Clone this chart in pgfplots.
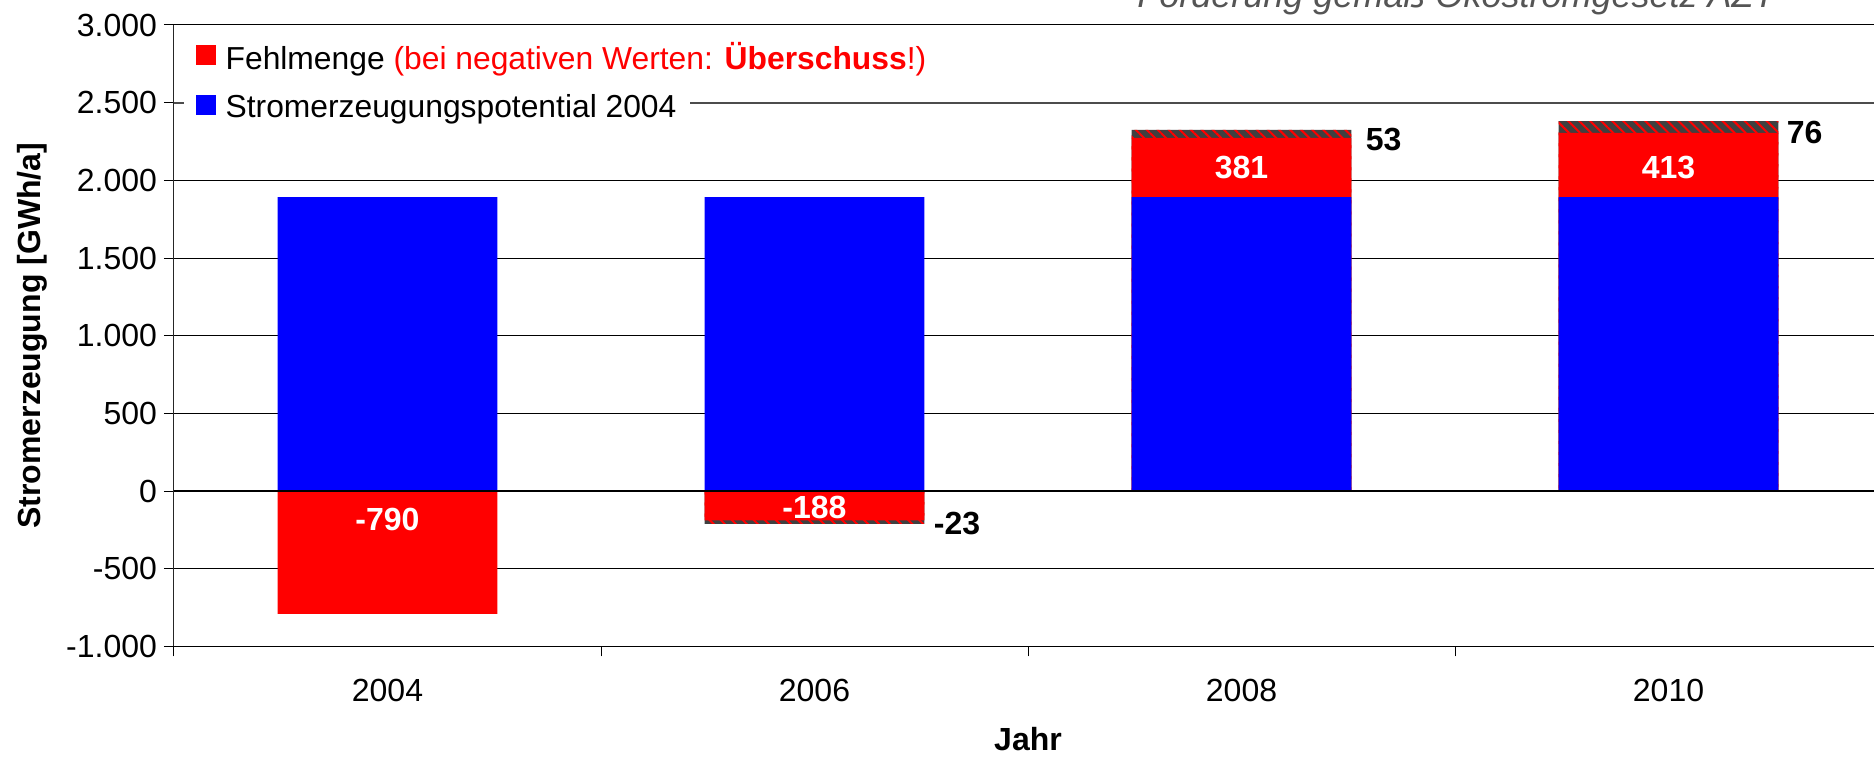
\documentclass[border=0pt]{standalone}
\usepackage{fontspec}
\setmainfont{Liberation Sans}
\usepackage{pgfplots}
\pgfplotsset{compat=1.18}
\usetikzlibrary{patterns.meta}

\definecolor{hatchgray}{HTML}{404040}
\definecolor{titlegray}{HTML}{555555}
\newcommand\sz{\fontsize{16}{19}\selectfont}

\begin{document}
\begin{tikzpicture}
\begin{axis}[
    at={(87pt,56.25pt)}, anchor=south west,
    scale only axis,
    width=854pt, height=310.75pt,
    xmin=-0.5, xmax=3.5,
    ymin=-1000, ymax=3000,
    axis x line*=bottom, axis y line*=left,
    x axis line style={line width=0.9pt},
    y axis line style={line width=0.5pt, black!85},
    tick align=outside,
    major tick length=5pt,
    tick style={black, line width=0.5pt},
    xtick={-0.5,0.5,1.5,2.5,3.5},
    xticklabels={,,,,},
    extra x ticks={0,1,2,3},
    extra x tick labels={2004,2006,2008,2010},
    extra x tick style={tick style={draw=none}},
    xticklabel style={yshift=-8pt},
    ytick={-1000,-500,...,3000},
    yticklabels={-1.000,-500,0,500,1.000,1.500,2.000,2.500,3.000},
    tick label style={font=\sz},
    ymajorgrids,
    grid style={black, line width=0.5pt},
    ylabel={Stromerzeugung [GWh/a]},
    ylabel style={font=\sz\bfseries, at={(axis description cs:-0.083,0.5)}, anchor=center},
    xlabel={Jahr},
    xlabel style={font=\sz\bfseries, at={(axis description cs:0.5,0)}, anchor=base, yshift=-52pt},
    legend style={at={(axis description cs:0.006,0.986)}, anchor=north west,
        draw=none, fill=none, font=\fontsize{15.9}{18}\selectfont,
        row sep=7pt, cells={anchor=west}},
]

% gestreifter Anteil (Zusatzmenge)
\addplot[ybar, bar width=0.515, bar shift=0pt, draw=none, fill=hatchgray,
    postaction={pattern={Lines[angle=-45,distance=3.9pt,line width=1pt]}, pattern color=red},
    forget plot] coordinates {
  (1,-211) (2,2325) (3,2381)
};

% Fehlmenge (Oberkante)
\addplot[ybar, bar width=0.515, bar shift=0pt, draw=none, fill=red,
    legend image code/.code={\path (0pt,0pt) (15.5pt,0pt); \fill[red] (2.5pt,-4pt) rectangle (12.5pt,6pt);}] coordinates {
  (0,-790) (1,-188) (2,2273) (3,2305)
};
\addlegendentry{Fehlmenge \textcolor{red}{(bei negativen Werten: \textbf{Überschuss}!)}}

% Stromerzeugungspotential 2004
\addplot[ybar, bar width=0.515, bar shift=0pt, draw=none, fill=blue,
    legend image code/.code={\path (0pt,0pt) (15.5pt,0pt); \fill[blue] (2.5pt,-4pt) rectangle (12.5pt,6pt);}] coordinates {
  (0,1892) (1,1892) (2,1892) (3,1892)
};
\addlegendentry{Stromerzeugungspotential 2004}

\draw[black, line width=1.1pt] (axis cs:-0.5,0) -- (axis cs:3.5,0);
\draw[black!70, line width=1pt] (axis cs:-0.5,2500) -- (axis cs:3.5,2500);
\fill[white] (axis cs:-0.4766,2350) rectangle (axis cs:0.7084,2650);

\node[text=white, font=\sz\bfseries] at (axis cs:0,-185) {-790};
\node[text=white, font=\sz\bfseries] at (axis cs:1,-108) {-188};
\node[text=white, font=\sz\bfseries] at (axis cs:2,2080) {381};
\node[text=white, font=\sz\bfseries] at (axis cs:3,2085) {413};
\node[font=\sz\bfseries, anchor=west, inner sep=0pt, xshift=4.5pt] at (axis cs:1.2575,-210) {-23};
\node[font=\sz\bfseries, anchor=west, inner sep=0pt, xshift=7pt] at (axis cs:2.2575,2266) {53};
\node[font=\sz\bfseries, anchor=west, inner sep=0pt, xshift=4pt] at (axis cs:3.2575,2308) {76};
\end{axis}

\node[anchor=base west, inner sep=0pt, text=titlegray, font=\fontsize{18}{21}\selectfont\itshape]
  at (568.5pt,375.5pt) {Förderung gemäß Ökostromgesetz AZT};

\pgfresetboundingbox
\useasboundingbox (0,0) rectangle (937pt,379.5pt);
\end{tikzpicture}
\end{document}
